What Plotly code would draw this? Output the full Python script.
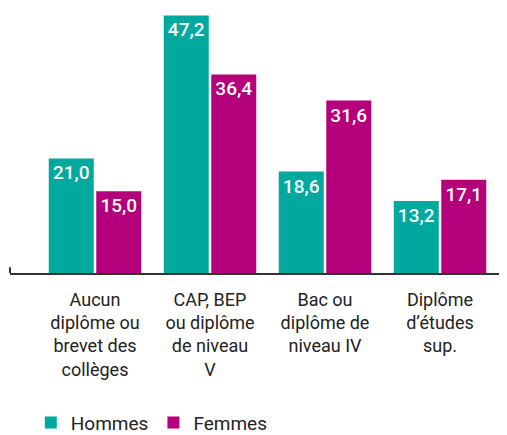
import plotly.graph_objects as go

categories = ["Aucun<br>diplôme ou<br>brevet des<br>collèges",
              "CAP, BEP<br>ou diplôme<br>de niveau<br>V",
              "Bac ou<br>diplôme de<br>niveau IV",
              "Diplôme<br>d’études<br>sup."]
hommes = [21.0, 47.2, 18.6, 13.2]
femmes = [15.0, 36.4, 31.6, 17.1]

def fr(v):
    return f"{v:.1f}".replace(".", ",")

teal = "#00A89D"
magenta = "#B4007A"
font_family = "Roboto, DejaVu Sans, sans-serif"

fig = go.Figure()
for name, vals, col in [("Hommes", hommes, teal), ("Femmes", femmes, magenta)]:
    fig.add_trace(go.Bar(
        x=categories, y=vals, name=name, marker=dict(color=col, line=dict(width=0)),
        text=[fr(v) for v in vals], textposition="inside", insidetextanchor="end",
        textangle=0, textfont=dict(color="white", size=19, family=font_family, weight=500),
        cliponaxis=False,
    ))

# page body has an 8px default margin, so the figure is sized to fit the window
fig.update_layout(
    width=499, height=427,
    margin=dict(l=2, r=2, t=2, b=162, autoexpand=False),
    paper_bgcolor="white", plot_bgcolor="white",
    barmode="group", bargap=0.174, bargroupgap=0.053,
    font=dict(family=font_family, size=18, color="#222222"),
    showlegend=True,
    legend=dict(orientation="h", x=0.042, xanchor="left", y=-0.497, yanchor="top",
                font=dict(size=19, color="#222222"), itemsizing="constant",
                traceorder="normal"),
    xaxis=dict(showline=True, linecolor="#333333", linewidth=2, ticks="",
               range=[-0.739, 3.565], tickfont=dict(size=18, color="#222222"),
               ticklabelstandoff=9,
               showgrid=False, zeroline=False),
    yaxis=dict(visible=False, range=[0, 48.2], showgrid=False, zeroline=False),
)
fig.add_shape(type="line", xref="paper", yref="paper", x0=0, x1=0, y0=0, y1=0.022,
              line=dict(color="#333333", width=2))

fig.write_html("out.html")
